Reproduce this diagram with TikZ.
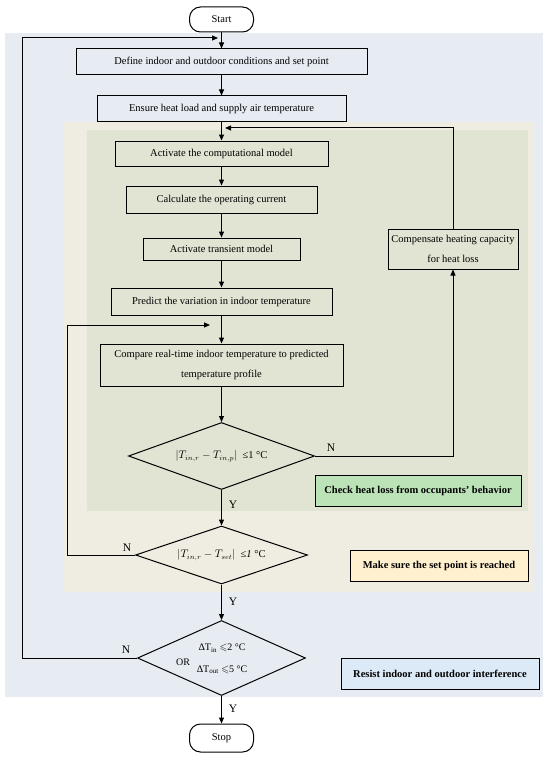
\documentclass[tikz,border=0pt]{standalone}
\usepackage{fontspec}
\setmainfont{Liberation Serif}
\usepackage{amssymb}
\usetikzlibrary{shapes.geometric,arrows.meta}
\definecolor{bgblue}{HTML}{E7ECF3}
\definecolor{bgbeige}{HTML}{EFECE2}
\definecolor{bggreen}{HTML}{E1E4D3}
\definecolor{notegreen}{HTML}{BCE3B8}
\definecolor{noteyellow}{HTML}{FFF1CF}
\definecolor{noteblue}{HTML}{DCEAF7}
\tikzset{
  stepbox/.style={draw=black, line width=1pt, inner sep=0pt, align=center, font=\fontsize{10.5}{19.5}\selectfont},
  termbox/.style={draw=black, line width=1pt, inner sep=0pt, rounded corners=11pt, minimum width=64pt, font=\fontsize{10.5}{12}\selectfont},
  decbox/.style={draw=black, line width=1pt, shape=diamond, inner sep=0pt, font=\fontsize{10.5}{12}\selectfont},
  dectext/.style={font=\fontsize{10}{12}\selectfont, inner sep=0pt},
  notebox/.style={draw=black, line width=1pt, inner sep=0pt, font=\bfseries\fontsize{10.5}{12}\selectfont},
  arr/.style={line width=1pt, -{Triangle[length=6pt,width=5pt]}},
  yn/.style={font=\fontsize{11.5}{12}\selectfont, inner sep=0pt}
}
\begin{document}
\begin{tikzpicture}[x=1pt,y=-1pt]
\useasboundingbox[fill=white] (0,0) rectangle (550,757);
% backgrounds
\fill[bgblue] (5,33) rectangle (543,697);
\fill[bgbeige] (63,122) rectangle (534,592);
\fill[bggreen] (87,130) rectangle (528,511);
% nodes
\node[termbox, minimum height=25pt] (start) at (221.5,19.5) {Start};
\node[stepbox, minimum width=291pt, minimum height=26pt] (define) at (221.5,62) {Define indoor and outdoor conditions and set point};
\node[stepbox, minimum width=249pt, minimum height=26pt] (ensure) at (221.5,109) {Ensure heat load and supply air temperature};
\node[stepbox, minimum width=213pt, minimum height=25pt] (comp) at (221.5,153.5) {Activate the computational model};
\node[stepbox, minimum width=191pt, minimum height=27pt] (calc) at (221.5,199.5) {Calculate the operating current};
\node[stepbox, minimum width=157pt, minimum height=22pt] (trans) at (221.5,249) {Activate transient model};
\node[stepbox, minimum width=221pt, minimum height=27pt] (pred) at (221.5,301.5) {Predict the variation in indoor temperature};
\node[stepbox, minimum width=243pt, minimum height=42pt] (cmp) at (221.5,365) {Compare real-time indoor temperature to predicted\\temperature profile};
\node[stepbox, minimum width=130pt, minimum height=40pt] (compen) at (453,249) {Compensate heating capacity\\for heat loss};
\node[decbox, minimum width=186pt, minimum height=67pt, aspect=2.78] (d1) at (221.5,456) {$|T_{in,r}-T_{in,p}|$\ \ ≤1 °C};
\node[decbox, minimum width=172pt, minimum height=58pt, aspect=2.97] (d2) at (221.5,555) {$|T_{in,r}-T_{set}|$\ \ ≤\textit{1} °C};
\node[decbox, minimum width=168pt, minimum height=75pt, aspect=2.24] (d3) at (221.5,658) {};
\node[dectext] (d3a) at (222,648) {ΔT\textsubscript{in} $\leqslant$2 °C};
\node[dectext] (d3or) at (183,662) {OR};
\node[dectext] (d3b) at (222,669.5) {ΔT\textsubscript{out} $\leqslant$5 °C};
\node[termbox, minimum height=28pt] (stop) at (221.5,738) {Stop};
\node[notebox, fill=notegreen, minimum width=206pt, minimum height=31pt] (check) at (418,490.5) {Check heat loss from occupants’ behavior};
\node[notebox, fill=noteyellow, minimum width=178pt, minimum height=31pt] (make) at (439,565.5) {Make sure the set point is reached};
\node[notebox, fill=noteblue, minimum width=198pt, minimum height=31pt] (resist) at (440,673.5) {Resist indoor and outdoor interference};
% connectors
\draw[arr] (start) -- (define);
\draw[arr] (define) -- (ensure);
\draw[arr] (ensure) -- (comp);
\draw[arr] (comp) -- (calc);
\draw[arr] (calc) -- (trans);
\draw[arr] (trans) -- (pred);
\draw[arr] (pred) -- (cmp);
\draw[arr] (cmp) -- (d1);
\draw[arr] (d1) -- (d2);
\draw[arr] (d2) -- (d3);
\draw[arr] (d3) -- (stop);
\coordinate (fb1) at (225,128);
\coordinate (fb2) at (210,325);
\coordinate (fb3) at (218,38);
\draw[arr] (d1.east) -- (453,456) -- (compen.south);
\draw[arr] (compen.north) |- (fb1);
\draw[arr] (d2.west) -- (67,555) |- (fb2);
\draw[arr] (d3.west) -- (22,658) |- (fb3);
% labels
\node[yn] (n1) at (331,448) {N};
\node[yn] (y1) at (233,505) {Y};
\node[yn] (n2) at (127,548) {N};
\node[yn] (y2) at (233,602) {Y};
\node[yn] (n3) at (126,650) {N};
\node[yn] (y3) at (233,709) {Y};
\end{tikzpicture}
\end{document}
